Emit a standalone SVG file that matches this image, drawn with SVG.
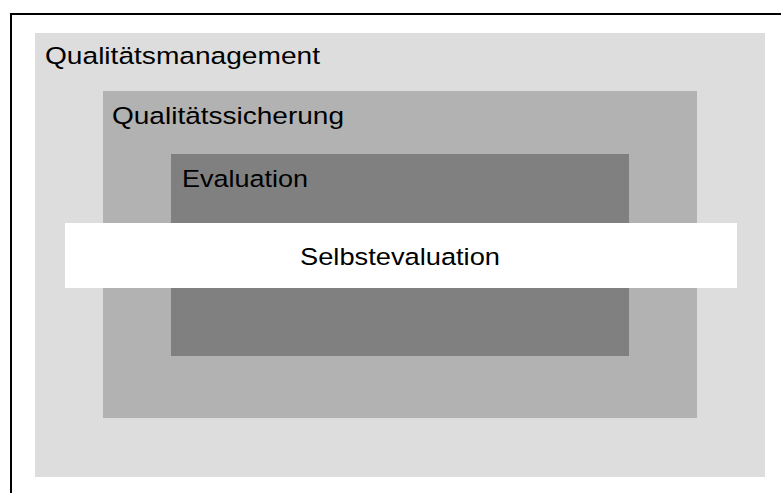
<svg xmlns="http://www.w3.org/2000/svg" width="781" height="493" viewBox="0 0 781 493">
<style>
  text { font-family: "Liberation Sans", Arial, sans-serif; font-size: 24.5px; fill: #000; }
</style>
<rect x="0" y="0" width="781" height="493" fill="#ffffff"/>
<rect id="frame" x="11" y="14" width="790" height="500" fill="none" stroke="#000" stroke-width="2"/>
<g id="qualitaetsmanagement">
  <rect x="35" y="33" width="730" height="444" fill="#dddddd"/>
  <text x="45" y="64" textLength="275" lengthAdjust="spacingAndGlyphs">Qualitätsmanagement</text>
</g>
<g id="qualitaetssicherung">
  <rect x="103" y="91" width="594" height="327" fill="#b2b2b2"/>
  <text x="112" y="124" textLength="232" lengthAdjust="spacingAndGlyphs">Qualitätssicherung</text>
</g>
<g id="evaluation">
  <rect x="171" y="154" width="458" height="202" fill="#808080"/>
  <text x="182" y="187" textLength="126" lengthAdjust="spacingAndGlyphs">Evaluation</text>
</g>
<g id="selbstevaluation">
  <rect x="65" y="223" width="672" height="65" fill="#ffffff"/>
  <text x="300" y="265" textLength="200" lengthAdjust="spacingAndGlyphs">Selbstevaluation</text>
</g>
<g id="connectors"></g>
</svg>
